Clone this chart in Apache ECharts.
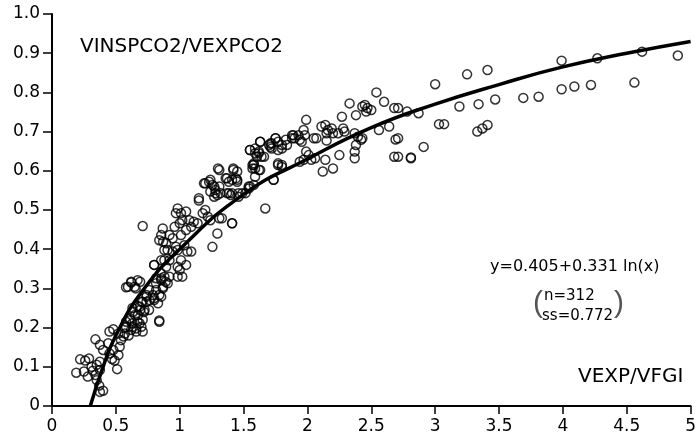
<!DOCTYPE html>
<html>
<head>
<meta charset="utf-8">
<script src="https://cdn.jsdelivr.net/npm/echarts@6/dist/echarts.min.js"></script>
<style>
  html, body { margin: 0; padding: 0; background: #fff; }
  #chart { width: 699px; height: 439px; }
</style>
</head>
<body>
<div id="chart"></div>
<script>
// axis ticks
var xTicks = [0, 0.5, 1, 1.5, 2, 2.5, 3, 3.5, 4, 4.5, 5];
var yTicks = [0, 0.1, 0.2, 0.3, 0.4, 0.5, 0.6, 0.7, 0.8, 0.9, 1.0];

var pointsLow = [
  [0.22, 0.119], [0.26, 0.116], [0.29, 0.121], [0.19, 0.085], [0.25, 0.088],
  [0.28, 0.075], [0.32, 0.090], [0.35, 0.105], [0.375, 0.113], [0.31, 0.100],
  [0.34, 0.079], [0.375, 0.092], [0.35, 0.066], [0.37, 0.052], [0.40, 0.039],
  [0.375, 0.036], [0.34, 0.17], [0.375, 0.156], [0.40, 0.143], [0.44, 0.16],
  [0.47, 0.12], [0.49, 0.116], [0.51, 0.094], [0.45, 0.134], [0.48, 0.143],
  [0.52, 0.13], [0.53, 0.151], [0.45, 0.19], [0.48, 0.196], [0.52, 0.185],
  [0.56, 0.177], [0.57, 0.20], [0.54, 0.168], [0.58, 0.215], [0.61, 0.224],
  [0.63, 0.211], [0.65, 0.232], [0.67, 0.215], [0.66, 0.198], [0.70, 0.202],
  [0.62, 0.194], [0.60, 0.18], [0.71, 0.22], [0.72, 0.24], [0.69, 0.245],
  [0.63, 0.25], [0.74, 0.266], [0.70, 0.266], [0.67, 0.255], [0.76, 0.245],
  [0.84, 0.218], [0.58, 0.303], [0.62, 0.315], [0.655, 0.30], [0.69, 0.317],
  [0.76, 0.296], [0.74, 0.279], [0.80, 0.27], [0.815, 0.313], [0.84, 0.283],
  [0.87, 0.304], [0.89, 0.317], [0.855, 0.326], [0.80, 0.36], [0.88, 0.372],
  [0.905, 0.398], [0.87, 0.419], [0.85, 0.34]
];

var pointsMid = [
  [1.19, 0.568], [1.23, 0.572], [1.256, 0.564], [1.28, 0.551], [1.27, 0.534],
  [1.295, 0.538], [1.24, 0.547], [1.31, 0.56], [1.385, 0.572], [1.45, 0.572],
  [1.41, 0.543], [1.46, 0.543], [1.515, 0.543], [1.54, 0.555], [1.58, 0.564],
  [1.15, 0.524], [0.71, 0.459], [0.984, 0.504], [1.01, 0.492], [0.97, 0.492],
  [1.05, 0.496], [1.075, 0.474], [1.11, 0.47], [1.02, 0.474], [1.0, 0.466],
  [0.96, 0.457], [1.05, 0.449], [1.09, 0.457], [1.14, 0.466], [1.18, 0.492],
  [1.20, 0.50], [1.22, 0.483], [1.24, 0.474], [1.31, 0.479], [1.41, 0.466],
  [1.295, 0.44], [1.256, 0.406], [0.867, 0.453], [0.855, 0.436], [0.84, 0.423],
  [0.92, 0.436], [0.945, 0.428], [1.01, 0.436], [1.036, 0.41], [0.97, 0.406],
  [0.894, 0.415], [0.88, 0.398], [0.945, 0.394], [0.984, 0.398], [1.06, 0.394],
  [1.09, 0.394], [1.01, 0.372], [0.984, 0.355], [1.0, 0.347], [1.05, 0.36],
  [1.02, 0.33], [0.984, 0.33], [0.80, 0.36], [0.855, 0.372], [0.92, 0.372],
  [0.894, 0.355], [0.815, 0.326], [0.855, 0.321], [0.88, 0.33], [0.92, 0.33],
  [0.906, 0.313], [0.867, 0.30], [0.815, 0.296], [0.855, 0.279], [0.79, 0.283],
  [0.80, 0.275], [0.83, 0.262], [0.62, 0.317], [0.67, 0.321], [0.595, 0.304],
  [0.647, 0.304], [0.74, 0.283], [0.764, 0.27], [0.71, 0.266], [0.686, 0.253],
  [0.725, 0.245], [0.634, 0.24], [0.673, 0.232], [0.61, 0.219], [0.58, 0.202],
  [0.634, 0.202], [0.686, 0.211], [0.66, 0.19], [0.71, 0.19], [0.57, 0.185],
  [0.84, 0.215], [1.30, 0.606], [1.42, 0.606], [1.45, 0.598], [1.37, 0.581],
  [1.45, 0.577], [1.20, 0.568], [1.24, 0.577], [1.27, 0.56], [1.28, 0.543],
  [1.15, 0.53], [1.385, 0.543], [1.55, 0.653], [1.59, 0.657], [1.63, 0.674],
  [1.62, 0.645], [1.66, 0.636], [1.71, 0.661], [1.75, 0.683], [1.72, 0.67],
  [1.77, 0.653], [1.80, 0.657], [1.84, 0.666], [1.88, 0.691], [1.90, 0.683],
  [1.58, 0.615], [1.59, 0.585], [1.63, 0.602], [1.57, 0.606], [1.77, 0.615],
  [1.80, 0.61], [1.735, 0.577], [1.54, 0.56]
];

var pointsHigh = [
  [2.54, 0.80], [2.33, 0.772], [2.45, 0.768], [2.47, 0.76], [2.50, 0.755],
  [2.46, 0.751], [2.43, 0.764], [2.60, 0.776], [2.68, 0.76], [2.38, 0.742],
  [2.27, 0.738], [1.99, 0.73], [2.11, 0.713], [2.14, 0.717], [2.16, 0.704],
  [2.19, 0.708], [2.15, 0.696], [2.20, 0.696], [2.24, 0.696], [2.28, 0.708],
  [2.29, 0.70], [1.97, 0.704], [1.98, 0.691], [1.89, 0.691], [1.93, 0.691],
  [1.88, 0.683], [1.94, 0.679], [1.955, 0.674], [2.05, 0.683], [2.07, 0.683],
  [2.15, 0.677], [1.75, 0.683], [1.77, 0.674], [1.80, 0.666], [1.83, 0.679],
  [1.63, 0.674], [1.55, 0.653], [1.59, 0.645], [1.62, 0.649], [1.64, 0.636],
  [1.605, 0.636], [1.70, 0.666], [1.72, 0.657], [1.71, 0.67], [1.99, 0.649],
  [2.01, 0.64], [2.03, 0.628], [2.06, 0.632], [1.94, 0.623], [1.97, 0.628],
  [2.37, 0.696], [2.395, 0.687], [2.42, 0.679], [2.38, 0.666], [2.37, 0.649],
  [2.37, 0.632], [2.43, 0.683], [2.56, 0.704], [2.64, 0.713], [2.69, 0.68],
  [2.68, 0.636], [2.81, 0.632], [2.25, 0.64], [2.14, 0.628], [2.12, 0.598],
  [2.20, 0.606], [1.67, 0.504], [1.41, 0.466], [1.33, 0.479], [1.31, 0.602],
  [1.36, 0.581], [1.42, 0.602], [1.44, 0.581], [1.41, 0.577], [1.32, 0.543],
  [1.37, 0.543], [1.40, 0.538], [1.46, 0.534], [1.49, 0.543], [1.55, 0.56],
  [1.57, 0.615], [1.59, 0.606], [1.62, 0.602], [1.58, 0.619], [1.77, 0.619],
  [1.80, 0.615], [1.735, 0.577], [2.71, 0.76], [2.78, 0.751], [2.87, 0.747],
  [2.71, 0.683], [2.71, 0.636], [2.81, 0.634], [2.91, 0.661], [3.00, 0.821],
  [3.03, 0.719], [3.07, 0.719], [3.19, 0.764], [3.25, 0.846], [3.34, 0.77],
  [3.41, 0.857], [3.47, 0.782], [3.33, 0.70], [3.37, 0.708], [3.41, 0.717],
  [3.69, 0.786], [3.81, 0.789], [3.99, 0.881], [3.99, 0.808], [4.09, 0.815],
  [4.22, 0.819], [4.27, 0.887], [4.56, 0.825], [4.62, 0.904], [4.90, 0.894]
];

// fitted curve
var fitX = [0.3, 0.4, 0.5, 0.7, 1, 1.5, 2, 2.5, 3, 3.5, 4, 4.5, 5];
var fitY = [0, 0.10, 0.18, 0.29, 0.40, 0.54, 0.63, 0.71, 0.77, 0.82, 0.865, 0.90, 0.93];

var FONT = 'DejaVu Sans';

var chart = echarts.init(document.getElementById('chart'), null, { renderer: 'canvas' });

var option = {
  animation: false,
  backgroundColor: '#fff',
  grid: { left: 52, right: 4, top: 14, bottom: 33, containLabel: false },
  xAxis: {
    type: 'value',
    min: xTicks[0],
    max: xTicks[xTicks.length - 1],
    interval: 0.5,
    splitLine: { show: false },
    axisLine: { onZero: false, lineStyle: { color: '#000', width: 2 } },
    axisTick: { length: 8, lineStyle: { color: '#000', width: 1.5 } },
    axisLabel: {
      margin: 12, color: '#000', fontFamily: FONT, fontSize: 17,
      formatter: function (v) { return String(v); }
    }
  },
  yAxis: {
    type: 'value',
    min: yTicks[0],
    max: yTicks[yTicks.length - 1],
    interval: 0.1,
    splitLine: { show: false },
    axisLine: { onZero: false, lineStyle: { color: '#000', width: 2 } },
    axisTick: { length: 9, lineStyle: { color: '#000', width: 1.5 } },
    axisLabel: {
      margin: 12, color: '#000', fontFamily: FONT, fontSize: 17,
      formatter: function (v) { return v === 0 ? '0' : v.toFixed(1); }
    }
  },
  series: [
    {
      type: 'scatter',
      data: pointsLow.concat(pointsMid, pointsHigh),
      symbol: 'circle',
      symbolSize: 9,
      itemStyle: { color: 'rgba(255,255,255,0)', borderColor: '#000', borderWidth: 1.5 },
      z: 2
    },
    {
      type: 'line',
      data: fitX.map(function (x, i) { return [x, fitY[i]]; }),
      smooth: true,
      showSymbol: false,
      lineStyle: { color: '#000', width: 3.5 },
      z: 3
    }
  ],
  graphic: [
    { type: 'text', left: 80, top: 37,
      style: { text: 'VINSPCO2/VEXPCO2', font: '20px "DejaVu Sans"', fill: '#000' } },
    { type: 'text', left: 578, top: 367,
      style: { text: 'VEXP/VFGI', font: '20px "DejaVu Sans"', fill: '#000' } },
    { type: 'text', left: 490, top: 259,
      style: { text: 'y=0.405+0.331 ln(x)', font: '16px "DejaVu Sans"', fill: '#000' } },
    { type: 'text', left: 544, top: 289,
      style: { text: 'n=312', font: '15px "DejaVu Sans"', fill: '#000' } },
    { type: 'text', left: 542, top: 309,
      style: { text: 'ss=0.772', font: '15px "DejaVu Sans"', fill: '#000' } },
    { type: 'text', left: 533, top: 289,
      style: { text: '(', font: '30px "Liberation Sans"', fill: '#555' } },
    { type: 'text', left: 614, top: 289,
      style: { text: ')', font: '30px "Liberation Sans"', fill: '#555' } }
  ]
};

chart.setOption(option);
</script>
</body>
</html>
